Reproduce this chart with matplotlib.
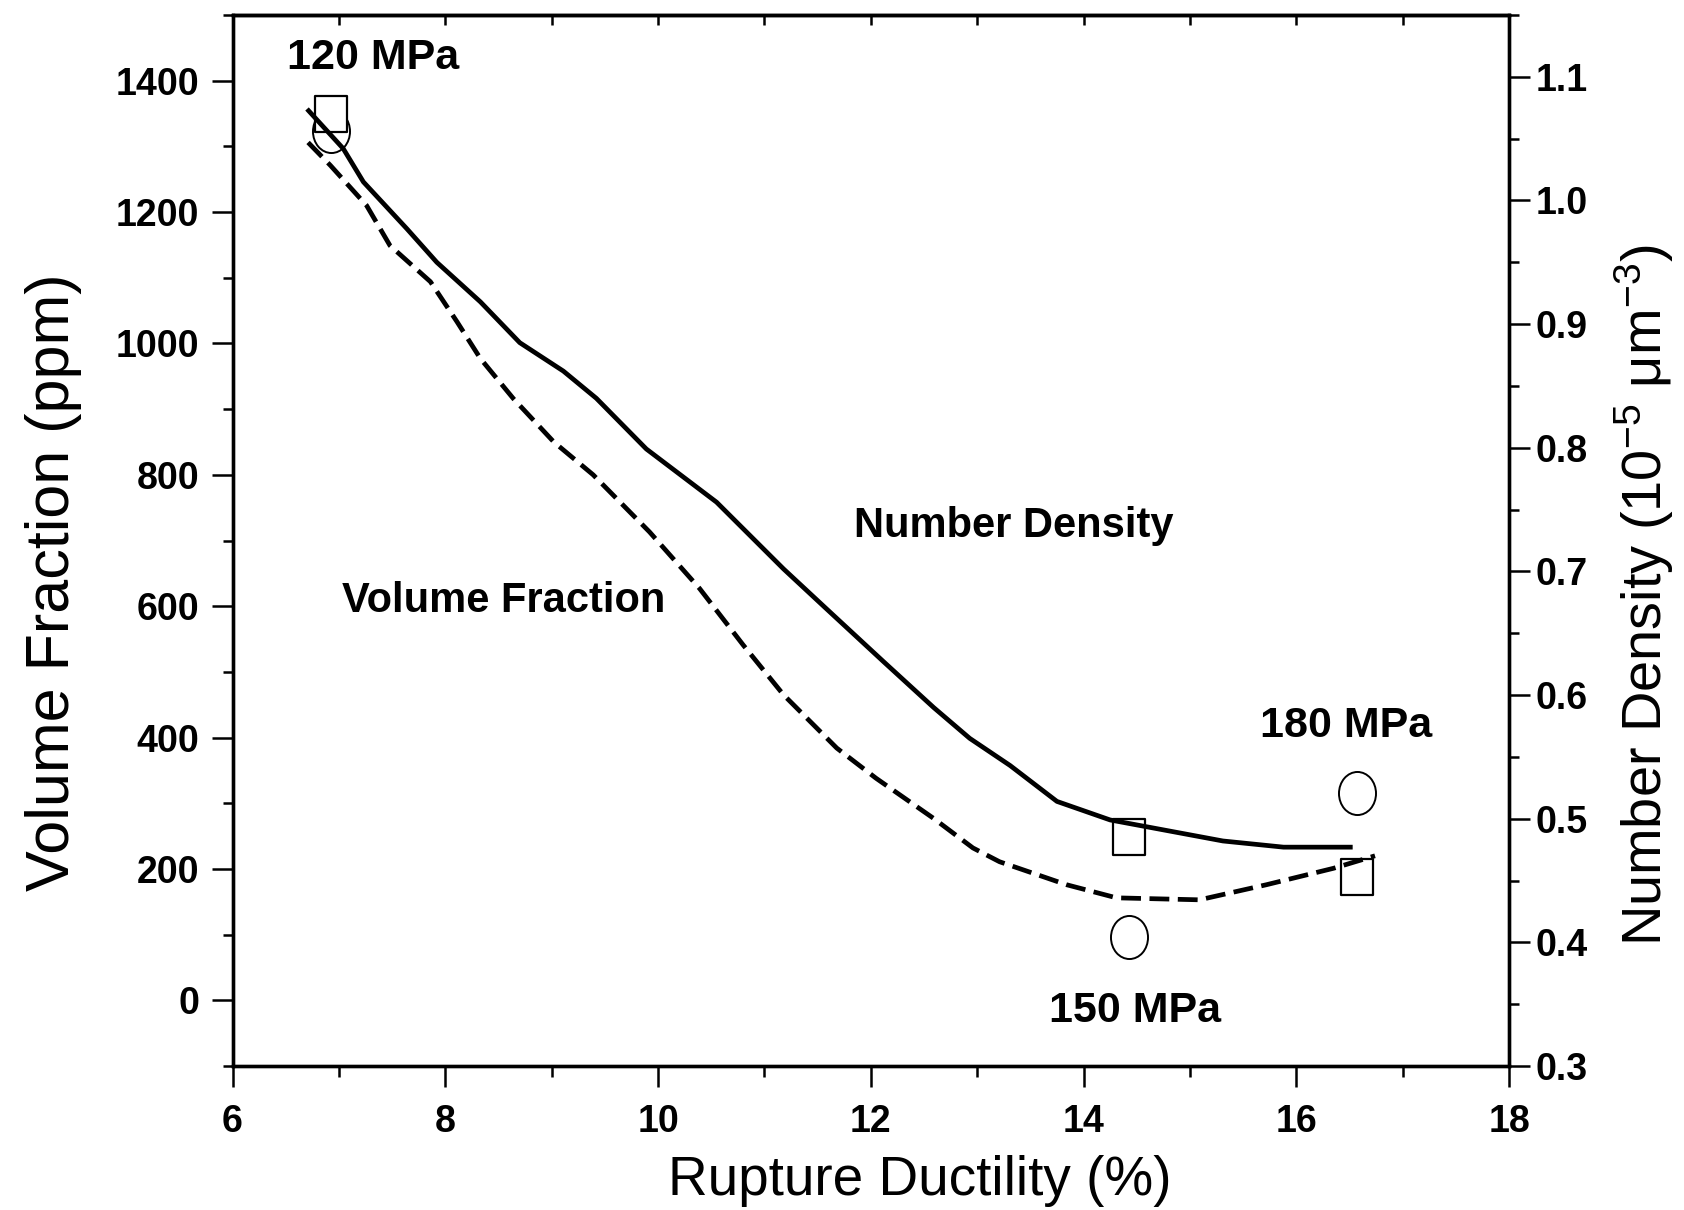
import matplotlib
matplotlib.use('Agg')
import matplotlib.pyplot as plt
from matplotlib import font_manager
from matplotlib.path import Path
from matplotlib.markers import MarkerStyle
from matplotlib.ticker import MultipleLocator
import numpy as np

# ---------------- data ----------------
# Number density guide curve (right axis, 10^-5 um^-3)
x_nd = [6.70, 7.04, 7.23, 7.64, 7.92, 8.33, 8.70, 9.11, 9.42, 9.89, 10.55,
        11.18, 11.58, 12.12, 12.59, 12.93, 13.31, 13.75, 14.25, 15.31, 15.88, 16.53]
nd = [1.074, 1.042, 1.015, 0.977, 0.950, 0.918, 0.885, 0.862, 0.840, 0.799, 0.756,
      0.702, 0.670, 0.627, 0.590, 0.565, 0.543, 0.514, 0.499, 0.482, 0.477, 0.477]

# Volume fraction guide curve (left axis, ppm)
x_vf = [6.71, 6.92, 7.26, 7.48, 7.86, 8.11, 8.33, 8.64, 9.02, 9.39, 9.92, 10.39,
        10.80, 11.18, 11.68, 12.05, 12.59, 12.96, 13.21, 13.84, 14.31, 15.09,
        15.72, 16.35, 16.74]
vf = [1306, 1271, 1210, 1149, 1094, 1033, 977, 916, 850, 800, 713, 627,
      541, 465, 384, 338, 277, 232, 211, 176, 156, 153, 176, 201, 220]

# Measured points for the three stresses
stress_labels = ['120 MPa', '150 MPa', '180 MPa']
x_pts = [6.93, 14.43, 16.57]
vf_pts = [1324, 96, 315]          # circles, volume fraction (ppm)
nd_pts = [1.070, 0.485, 0.453]    # squares, number density

x_ticks = [6, 8, 10, 12, 14, 16, 18]
vf_ticks = [0, 200, 400, 600, 800, 1000, 1200, 1400]
nd_ticks = [0.3, 0.4, 0.5, 0.6, 0.7, 0.8, 0.9, 1.0, 1.1]
nd_tick_labels = ['0.3', '0.4', '0.5', '0.6', '0.7', '0.8', '0.9', '1.0', '1.1']

# ---------------- fonts ----------------
avail = {f.name for f in font_manager.fontManager.ttflist}
base = 'Liberation Sans' if 'Liberation Sans' in avail else 'DejaVu Sans'
lab_fam = 'Liberation Sans Narrow' if 'Liberation Sans Narrow' in avail else base
plt.rcParams['font.family'] = [base, 'DejaVu Sans']
plt.rcParams['mathtext.fontset'] = 'custom'
plt.rcParams['mathtext.rm'] = lab_fam
plt.rcParams['mathtext.it'] = lab_fam + ':italic'
plt.rcParams['mathtext.bf'] = lab_fam + ':bold'

fig = plt.figure(figsize=(16.84, 12.10), dpi=100)
ax = fig.add_axes([0.1381, 0.1190, 0.7580, 0.8686])
ax2 = ax.twinx()
ax.set_zorder(ax2.get_zorder() + 1)
ax.patch.set_visible(False)

ax.set_xlim(6, 18)
ax.set_ylim(-100, 1500)
ax2.set_ylim(0.3, 1.15)
ax.set_autoscale_on(False)

# markers
circ = Path.unit_circle().transformed(matplotlib.transforms.Affine2D().scale(0.86, 1.0))
rect = Path([(-0.91, -1), (0.91, -1), (0.91, 1), (-0.91, 1), (-0.91, -1)],
            [Path.MOVETO, Path.LINETO, Path.LINETO, Path.LINETO, Path.CLOSEPOLY])

ax.plot(x_pts, vf_pts, linestyle='none', marker=MarkerStyle(circ), markersize=31,
        markerfacecolor='none', markeredgecolor='black', markeredgewidth=1.4, zorder=2)
ax.plot(x_pts, nd_pts, linestyle='none', marker=MarkerStyle(rect), markersize=26,
        markerfacecolor='white', markeredgecolor='black', markeredgewidth=1.6,
        zorder=3, transform=ax2.transData)

ax.plot(x_nd, nd, color='black', linewidth=3.4, solid_capstyle='butt', zorder=4,
        transform=ax2.transData)
ax.plot(x_vf, vf, color='black', linewidth=3.4, dashes=(4.2, 1.8), zorder=4)

# ---------------- ticks ----------------
ax.set_xticks(x_ticks)
ax.set_xticklabels([str(t) for t in x_ticks])
ax.xaxis.set_minor_locator(MultipleLocator(1))
ax.set_yticks(vf_ticks)
ax.set_yticklabels([str(t) for t in vf_ticks])
ax.yaxis.set_minor_locator(MultipleLocator(100))
ax2.set_yticks(nd_ticks)
ax2.set_yticklabels(nd_tick_labels)
ax2.yaxis.set_minor_locator(MultipleLocator(0.05))

ax.tick_params(axis='x', which='major', direction='out', length=15, width=1.8,
               pad=12, labelsize=27, top=False)
ax.tick_params(axis='x', which='minor', direction='out', length=8, width=1.8, top=False)
ax.tick_params(axis='y', which='major', direction='out', length=15, width=1.8,
               pad=9, labelsize=27, right=False)
ax.tick_params(axis='y', which='minor', direction='out', length=7, width=1.8, right=False)
ax2.tick_params(axis='y', which='major', direction='out', length=15, width=1.8,
                pad=4, labelsize=27)
ax2.tick_params(axis='y', which='minor', direction='out', length=7, width=1.8)

secax = ax.secondary_xaxis('top')
secax.set_xticks(list(range(6, 19)))
secax.tick_params(direction='in', length=7, width=1.8, labeltop=False)

for a in (ax, ax2):
    for sp in a.spines.values():
        sp.set_linewidth(2.4)
secax.spines['top'].set_linewidth(2.4)

for lab in ax.get_xticklabels() + ax.get_yticklabels() + ax2.get_yticklabels():
    lab.set_fontweight('bold')

# ---------------- axis labels ----------------
xl = ax.set_xlabel('Rupture Ductility (%)', family=lab_fam, fontsize=46)
yl = ax.set_ylabel('Volume Fraction (ppm)', family=lab_fam, fontsize=50)
y2 = ax2.set_ylabel('Number Density (10$^{\\mathregular{-5}}$ \u03bcm$^{\\mathregular{-3}}$)',
                    family=lab_fam, fontsize=48, rotation=90)
ax.xaxis.set_label_coords(0.538, -0.109)
ax.yaxis.set_label_coords(-0.140, 0.460)
ax2.yaxis.set_label_coords(1.106, 0.448)
xl.set_va('center'); yl.set_va('center'); y2.set_va('center')

# ---------------- annotations ----------------
ann_kw = dict(fontweight='bold', ha='center', va='center', family=base)
ax.text(7.32, 1434, stress_labels[0], fontsize=31, **ann_kw)
ax.text(14.48, -17, stress_labels[1], fontsize=31, **ann_kw)
ax.text(16.47, 417, stress_labels[2], fontsize=31, **ann_kw)
ax.text(13.34, 722, 'Number Density', fontsize=30, **ann_kw)
ax.text(8.55, 608, 'Volume Fraction', fontsize=30, **ann_kw)

# fit axis-label lengths to reference (pixels)
fig.canvas.draw()
r = fig.canvas.get_renderer()
for t, target, horiz in ((xl, 503, True), (yl, 617, False), (y2, 700, False)):
    bb = t.get_window_extent(r)
    cur = bb.width if horiz else bb.height
    t.set_fontsize(t.get_fontsize() * target / cur)

fig.savefig('out.png', dpi=100)
